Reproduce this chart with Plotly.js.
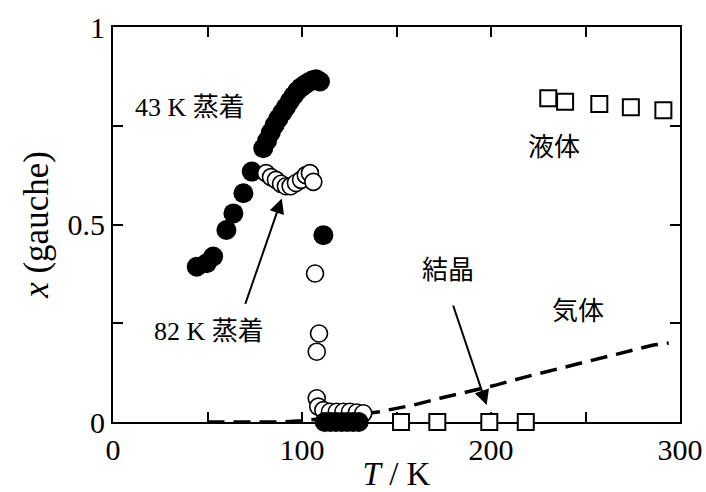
<!DOCTYPE html>
<html>
<head>
<meta charset="utf-8">
<script src="https://cdn.plot.ly/plotly-3.0.1.min.js"></script>
<style>html,body{margin:0;padding:0;background:#fff;}#chart{width:706px;height:492px;}</style>
</head>
<body>
<div id="chart"></div>
<script>
// 43 K deposition (filled circles)
const dep43T = [44.3, 49.6, 53, 60, 63.7, 69, 73.4, 79.5, 81.5, 83.5, 85.5, 87.5, 89.5, 91.5, 93.5, 95.5, 97.5, 99.5, 101.5, 103.5, 105.5, 107.5, 109.5, 111.3, 112, 115, 118, 121, 124, 127, 130];
const dep43X = [0.393, 0.402, 0.419, 0.486, 0.528, 0.579, 0.634, 0.693, 0.712, 0.733, 0.752, 0.768, 0.783, 0.797, 0.812, 0.826, 0.838, 0.847, 0.854, 0.860, 0.865, 0.868, 0.862, 0.473, 0, 0, 0, 0, 0, 0, 0];
// 82 K deposition (open circles)
const dep82T = [81, 83.6, 86.2, 88.9, 91.5, 94, 96.8, 99.5, 102, 104.2, 106, 106.9, 109, 107.8, 107.8, 108.6, 111.3, 114.8, 118.4, 121.9, 125.4, 129, 132.4];
const dep82X = [0.630, 0.620, 0.613, 0.603, 0.597, 0.597, 0.605, 0.613, 0.625, 0.630, 0.608, 0.376, 0.224, 0.178, 0.06, 0.039, 0.03, 0.026, 0.026, 0.026, 0.026, 0.024, 0.022];
// liquid (open squares)
const liquidT = [230.3, 239.2, 257.3, 274, 291.2];
const liquidX = [0.8195, 0.811, 0.805, 0.797, 0.789];
// crystal (open squares)
const crystalT = [152.4, 171.6, 199.1, 218.4];
const crystalX = [0, 0, 0, 0];
// gas (dashed line)
const gasT = [50, 60, 70, 80, 90, 100, 110, 120, 130, 141, 159, 173, 189, 203, 219, 233, 247, 261, 273.5, 286, 294];
const gasX = [0, 0, 0, 0, 0, 0.003, 0.008, 0.013, 0.019, 0.026, 0.043, 0.06, 0.077, 0.094, 0.115, 0.132, 0.149, 0.165, 0.182, 0.195, 0.2];

const xTickVals = [0, 50, 100, 150, 200, 250, 300];
const xTickText = ['0', '', '100', '', '200', '', '300'];
const yTickVals = [0, 0.25, 0.5, 0.75, 1];
const yTickText = ['0', '', '0.5', '', '1'];

const FONT = '"Liberation Serif", "Noto Sans CJK JP", serif';

const upT = [], upX = [], zeroT = [], zeroX = [];
dep43T.forEach((t, i) => { if (dep43X[i] > 0) { upT.push(t); upX.push(dep43X[i]); } else { zeroT.push(t); zeroX.push(dep43X[i]); } });

const traces = [
  {x: gasT, y: gasX, mode: 'lines', line: {color: '#000', width: 3.5, dash: '17px,9px'}, hoverinfo: 'skip'},
  {x: upT, y: upX, mode: 'markers', cliponaxis: false, marker: {symbol: 'circle', size: 20, color: '#000', line: {width: 0}}},
  {x: dep82T, y: dep82X, mode: 'markers', cliponaxis: false, marker: {symbol: 'circle', size: 17, color: '#fff', line: {width: 1.6, color: '#000'}}},
  {x: zeroT, y: zeroX, mode: 'markers', cliponaxis: false, marker: {symbol: 'circle', size: 20, color: '#000', line: {width: 0}}},
  {x: liquidT, y: liquidX, mode: 'markers', cliponaxis: false, marker: {symbol: 'square', size: 16, color: '#fff', line: {width: 2, color: '#000'}}},
  {x: crystalT, y: crystalX, mode: 'markers', cliponaxis: false, marker: {symbol: 'square', size: 16, color: '#fff', line: {width: 2, color: '#000'}}}
];

const axisCommon = {
  showgrid: false, zeroline: false, showline: true, linecolor: '#000', linewidth: 2,
  mirror: 'ticks', ticks: 'inside', ticklen: 10, tickwidth: 2, tickcolor: '#000',
  tickmode: 'array', layer: 'below traces',
  tickfont: {family: FONT, size: 30, color: '#000'}
};

const annFont = {family: FONT, size: 26, color: '#000'};
const layout = {
  width: 706, height: 492,
  margin: {l: 113, r: 26, t: 27, b: 70},
  paper_bgcolor: '#fff', plot_bgcolor: '#fff',
  showlegend: false,
  xaxis: Object.assign({}, axisCommon, {range: [0, 300], tickvals: xTickVals, ticktext: xTickText,
    title: {text: '<i>T</i> / K', font: {family: FONT, size: 33, color: '#000'}, standoff: 2}}),
  yaxis: Object.assign({}, axisCommon, {range: [0, 1], tickvals: yTickVals, ticktext: yTickText,
    title: {text: '<i>x</i> (gauche)', font: {family: FONT, size: 35, color: '#000'}, standoff: 8}}),
  annotations: [
    {x: 41, y: 0.795, xref: 'x', yref: 'y', text: '43 K 蒸着', showarrow: false, font: annFont},
    {x: 51, y: 0.23, xref: 'x', yref: 'y', text: '82 K 蒸着', showarrow: false, font: annFont},
    {x: 233.5, y: 0.695, xref: 'x', yref: 'y', text: '液体', showarrow: false, font: annFont},
    {x: 177, y: 0.383, xref: 'x', yref: 'y', text: '結晶', showarrow: false, font: annFont},
    {x: 246, y: 0.279, xref: 'x', yref: 'y', text: '気体', showarrow: false, font: annFont},
    {x: 89.3, y: 0.566, xref: 'x', yref: 'y', text: '', showarrow: true, ax: -37, ay: 107,
      arrowhead: 2, arrowsize: 1.5, arrowwidth: 2, arrowcolor: '#000', standoff: 0, startstandoff: 0},
    {x: 197.7, y: 0.043, xref: 'x', yref: 'y', text: '', showarrow: true, ax: -34, ay: -101,
      arrowhead: 2, arrowsize: 1.5, arrowwidth: 2, arrowcolor: '#000', standoff: 0, startstandoff: 0}
  ]
};

Plotly.newPlot('chart', traces, layout, {displayModeBar: false, staticPlot: true});
</script>
</body>
</html>
